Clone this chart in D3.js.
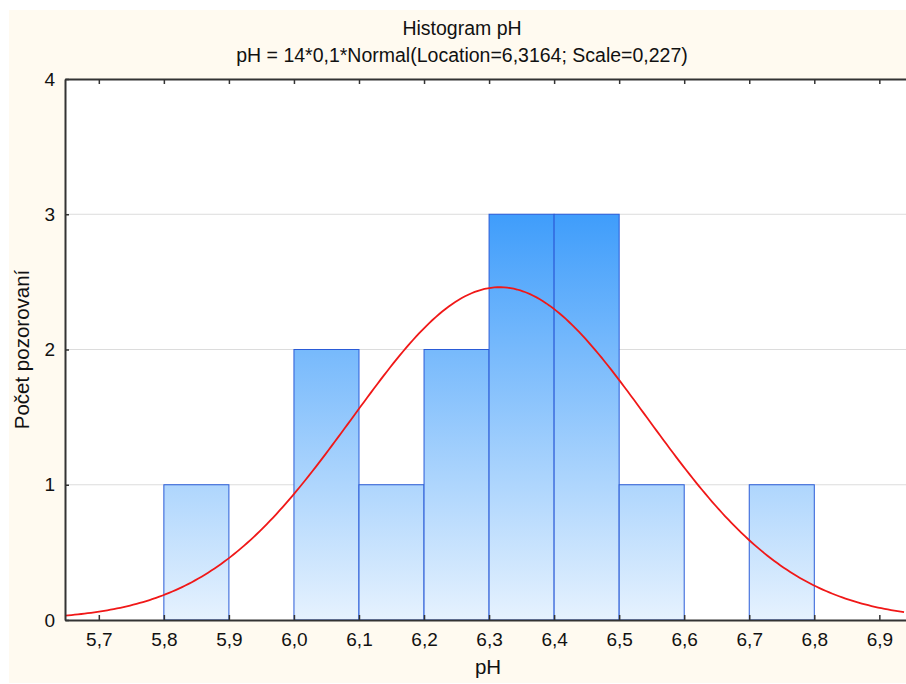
<!DOCTYPE html>
<html>
<head>
<meta charset="utf-8">
<script src="https://cdn.jsdelivr.net/npm/d3@7"></script>
<style>
  body { margin: 0; background: #fff; }
  text { font-family: "Liberation Sans", Arial, sans-serif; fill: #111; }
</style>
</head>
<body>
<svg id="chart" width="906" height="684"></svg>
<script>
// histogram bins (left edge of each 0,1 wide class) and counts
var binStarts = [5.8, 6.0, 6.1, 6.2, 6.3, 6.4, 6.5, 6.7];
var binCounts = [1, 2, 1, 2, 3, 3, 1, 1];
var binWidth = 0.1;
var xTicks = [5.7, 5.8, 5.9, 6.0, 6.1, 6.2, 6.3, 6.4, 6.5, 6.6, 6.7, 6.8, 6.9];
var yTicks = [0, 1, 2, 3, 4];
// fitted normal from the subtitle
var nObs = 14, fitLoc = 6.3164, fitScale = 0.227;

var svg = d3.select("#chart");
var margin = {left: 65, top: 79, right: 0, bottom: 64},
    width = 906 - margin.left - margin.right,
    height = 684 - margin.top - margin.bottom;

svg.append("rect").attr("x", 9).attr("y", 10).attr("width", 897).attr("height", 673)
  .attr("fill", "#fffaf0");

var x = d3.scaleLinear().domain([5.648, 6.941]).range([0, width]);
var y = d3.scaleLinear().domain([0, 4]).range([height, 0]);
var fmt = function(d) { return d3.format(".1f")(d).replace(".", ","); };

var g = svg.append("g").attr("transform", "translate(" + margin.left + "," + margin.top + ")");

g.append("rect").attr("width", width).attr("height", height).attr("fill", "#fff");

//gradient over the plot, darker at the top
var grad = svg.append("defs").append("linearGradient")
  .attr("id", "barGrad").attr("gradientUnits", "userSpaceOnUse")
  .attr("x1", 0).attr("x2", 0).attr("y1", y(3)).attr("y2", y(0));
grad.append("stop").attr("offset", "0%").attr("stop-color", "#3f9dfb");
grad.append("stop").attr("offset", "100%").attr("stop-color", "#e6f2fe");

//gridlines
g.selectAll(".grid").data(yTicks.slice(1, -1)).enter().append("line")
  .attr("x1", 0).attr("x2", width)
  .attr("y1", function(d) { return y(d); }).attr("y2", function(d) { return y(d); })
  .attr("stroke", "#dcdcdc").attr("stroke-width", 1);

//bars
g.selectAll(".bar").data(binStarts).enter().append("rect")
  .attr("x", function(d) { return x(d); })
  .attr("y", function(d, i) { return y(binCounts[i]); })
  .attr("width", function(d) { return x(d + binWidth) - x(d); })
  .attr("height", function(d, i) { return y(0) - y(binCounts[i]); })
  .attr("fill", "url(#barGrad)")
  .attr("stroke", "#2a5bd7").attr("stroke-width", 1);

//normal curve
var curve = d3.range(x.domain()[0], x.domain()[1] + 0.001, 0.005).map(function(v) {
  var z = (v - fitLoc) / fitScale;
  return [v, nObs * binWidth * Math.exp(-0.5 * z * z) / (fitScale * Math.sqrt(2 * Math.PI))];
});
g.append("path").datum(curve)
  .attr("d", d3.line().x(function(d) { return x(d[0]); }).y(function(d) { return y(d[1]); }))
  .attr("fill", "none").attr("stroke", "#f01818").attr("stroke-width", 1.8);

//axes
var xAxis = g.append("g").attr("transform", "translate(0," + height + ")")
  .call(d3.axisBottom(x).tickValues(xTicks).tickFormat(fmt).tickSizeInner(-5).tickSizeOuter(0).tickPadding(13));
var xTop = g.append("g")
  .call(d3.axisTop(x).tickValues(xTicks).tickFormat("").tickSizeInner(-5).tickSizeOuter(0));
var yAxis = g.append("g")
  .call(d3.axisLeft(y).tickValues(yTicks).tickFormat(d3.format("d")).tickSizeInner(-4).tickSizeOuter(0).tickPadding(10));
[xAxis, xTop, yAxis].forEach(function(a) {
  a.select(".domain").attr("stroke", "#333").attr("stroke-width", 2);
  a.selectAll(".tick line").attr("stroke", "#333").attr("stroke-width", 1.5);
  a.selectAll("text").style("font-size", "19px").attr("fill", "#111");
});

//titles
svg.append("text").attr("x", 462).attr("y", 35).attr("text-anchor", "middle")
  .style("font-size", "19.5px").text("Histogram pH");
svg.append("text").attr("x", 462).attr("y", 62).attr("text-anchor", "middle")
  .style("font-size", "19.5px").text("pH = 14*0,1*Normal(Location=6,3164; Scale=0,227)");
svg.append("text").attr("x", 488).attr("y", 674).attr("text-anchor", "middle")
  .style("font-size", "20.5px").text("pH");
svg.append("text").attr("transform", "translate(29," + (margin.top + height / 2) + ") rotate(-90)")
  .attr("text-anchor", "middle").style("font-size", "20.5px").text("Počet pozorovaní");
</script>
</body>
</html>
